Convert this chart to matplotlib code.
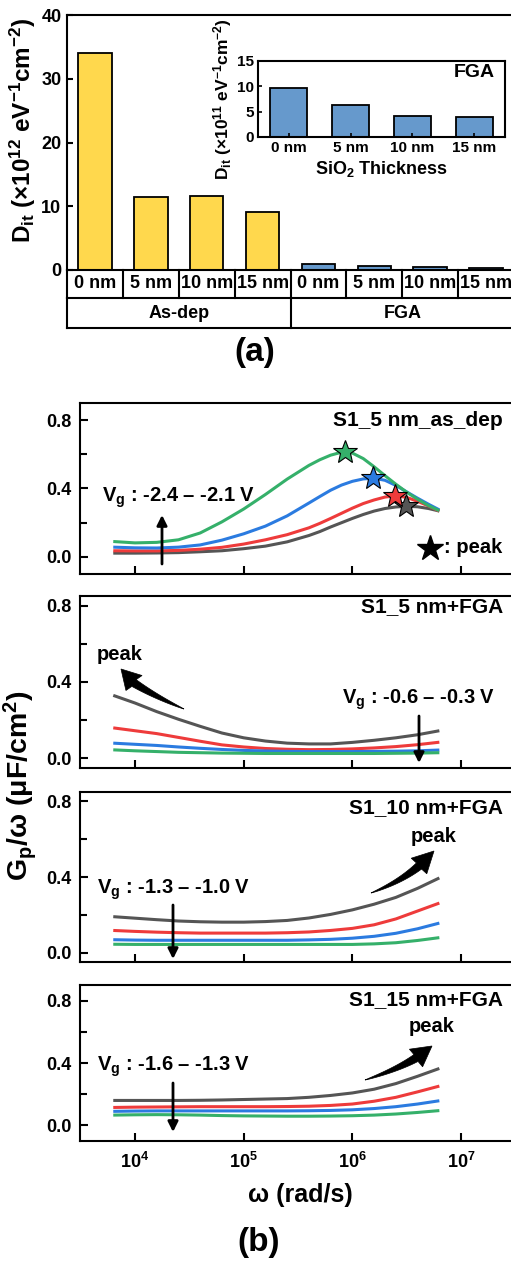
import numpy as np
import matplotlib
matplotlib.use('Agg')
import matplotlib.pyplot as plt
from matplotlib.patches import Polygon
from matplotlib.ticker import LogLocator, MultipleLocator, NullLocator, FormatStrFormatter

plt.rcParams['font.family'] = ['Liberation Sans', 'DejaVu Sans']
plt.rcParams['font.weight'] = 'bold'
plt.rcParams['axes.labelweight'] = 'bold'
plt.rcParams['mathtext.fontset'] = 'custom'
plt.rcParams['mathtext.rm'] = 'Liberation Sans:bold'
plt.rcParams['mathtext.it'] = 'Liberation Sans:bold'
plt.rcParams['mathtext.bf'] = 'Liberation Sans:bold'
plt.rcParams['mathtext.default'] = 'regular'
plt.rcParams['axes.linewidth'] = 1.5

# ---- (a) Dit bar data ----
thickness = ['0 nm', '5 nm', '10 nm', '15 nm']
groups = ['As-dep', 'FGA']
dit_asdep = [34.0, 11.5, 11.6, 9.1]       # x1e12 eV-1 cm-2
dit_fga_e11 = [9.6, 6.4, 4.1, 3.9]        # x1e11 eV-1 cm-2

# ---- (b) Gp/w data, log10(omega) grid ----
log_w = [3.8, 4.0, 4.2, 4.4, 4.6, 4.8, 5.0, 5.2, 5.4, 5.6, 5.8, 6.0, 6.2, 6.4, 6.6, 6.8]

# as-dep panel read on a finer grid around the peaks
log_w_asdep = [3.8, 4.0, 4.2, 4.4, 4.6, 4.8, 5.0, 5.2, 5.4, 5.6, 5.7, 5.8, 5.9, 6.0, 6.1, 6.2,
               6.3, 6.4, 6.5, 6.6, 6.7, 6.8]
asdep5_gray = [0.022, 0.022, 0.023, 0.025, 0.030, 0.036, 0.048, 0.063, 0.088, 0.125, 0.148, 0.175,
               0.200, 0.225, 0.248, 0.268, 0.283, 0.292, 0.296, 0.293, 0.283, 0.268]
asdep5_red = [0.036, 0.035, 0.035, 0.038, 0.045, 0.056, 0.075, 0.100, 0.130, 0.170, 0.196, 0.225,
              0.255, 0.285, 0.312, 0.333, 0.350, 0.357, 0.348, 0.325, 0.298, 0.268]
asdep5_blue = [0.057, 0.053, 0.052, 0.057, 0.070, 0.098, 0.135, 0.180, 0.240, 0.315, 0.353, 0.390,
               0.420, 0.442, 0.456, 0.460, 0.448, 0.418, 0.380, 0.343, 0.308, 0.275]
asdep5_green = [0.090, 0.082, 0.085, 0.100, 0.140, 0.205, 0.280, 0.365, 0.455, 0.535, 0.568, 0.595,
                0.612, 0.607, 0.575, 0.527, 0.475, 0.425, 0.378, 0.337, 0.300, 0.270]
peak_log_w = [6.49, 6.39, 6.19, 5.93]
peak_val = [0.296, 0.357, 0.460, 0.614]

fga5_gray = [0.330, 0.290, 0.245, 0.205, 0.168, 0.133, 0.108, 0.091, 0.080, 0.076, 0.076, 0.084, 0.095, 0.108, 0.124, 0.145]
fga5_red = [0.160, 0.145, 0.130, 0.110, 0.090, 0.071, 0.060, 0.052, 0.048, 0.046, 0.047, 0.050, 0.055, 0.062, 0.072, 0.085]
fga5_blue = [0.080, 0.074, 0.068, 0.060, 0.053, 0.047, 0.042, 0.039, 0.037, 0.036, 0.036, 0.036, 0.037, 0.038, 0.040, 0.044]
fga5_green = [0.045, 0.040, 0.036, 0.032, 0.030, 0.028, 0.027, 0.026, 0.026, 0.026, 0.026, 0.026, 0.026, 0.027, 0.028, 0.030]

fga10_gray = [0.190, 0.182, 0.174, 0.167, 0.163, 0.161, 0.161, 0.164, 0.170, 0.183, 0.202, 0.226, 0.256, 0.292, 0.340, 0.395]
fga10_red = [0.117, 0.112, 0.108, 0.105, 0.103, 0.103, 0.103, 0.103, 0.105, 0.109, 0.117, 0.128, 0.147, 0.178, 0.220, 0.262]
fga10_blue = [0.068, 0.066, 0.065, 0.065, 0.065, 0.065, 0.065, 0.065, 0.065, 0.067, 0.070, 0.076, 0.086, 0.102, 0.126, 0.156]
fga10_green = [0.044, 0.043, 0.043, 0.043, 0.043, 0.043, 0.043, 0.043, 0.043, 0.043, 0.043, 0.043, 0.046, 0.052, 0.064, 0.079]

fga15_gray = [0.160, 0.160, 0.160, 0.160, 0.161, 0.163, 0.166, 0.169, 0.172, 0.180, 0.192, 0.208, 0.232, 0.268, 0.315, 0.365]
fga15_red = [0.115, 0.117, 0.118, 0.119, 0.120, 0.120, 0.120, 0.120, 0.121, 0.123, 0.128, 0.137, 0.155, 0.180, 0.215, 0.252]
fga15_blue = [0.090, 0.092, 0.093, 0.093, 0.093, 0.093, 0.093, 0.093, 0.093, 0.094, 0.096, 0.100, 0.108, 0.120, 0.137, 0.158]
fga15_green = [0.066, 0.068, 0.069, 0.068, 0.066, 0.063, 0.061, 0.060, 0.059, 0.059, 0.060, 0.062, 0.066, 0.073, 0.083, 0.095]

colors = ['#555555', '#EE3B3B', '#2B7BE0', '#35B06A']
yellow = '#FFD84D'
blue_bar = '#6699CC'

W, H = 511, 1262


def box(l, t, r, b):
    return [l / W, 1 - b / H, (r - l) / W, (b - t) / H]


def frac(px, x, y):
    l, t, r, b = px
    return ((x - l) / (r - l), (b - y) / (b - t))


fig = plt.figure(figsize=(W / 100, H / 100), dpi=100)

# ---------------- (a) ----------------
bar_px = (67, 15, 514, 270)
ax = fig.add_axes(box(*bar_px))
xpos = np.arange(8)
ax.bar(xpos[:4], dit_asdep, width=0.6, color=yellow, edgecolor='k', lw=1.3)
ax.bar(xpos[4:], [v / 10 for v in dit_fga_e11], width=0.6, color=blue_bar, edgecolor='k', lw=1.3)
ax.set_xlim(-0.5, 7.5)
ax.set_ylim(0, 40)
ax.set_yticks([0, 10, 20, 30, 40])
ax.set_xticks([])
ax.tick_params(axis='y', direction='in', length=4, width=1.5, labelsize=13, pad=4)
ax.spines['right'].set_visible(False)
fig.text(23 / W, 1 - 130 / H,
         r'D$_{\mathregular{it}}$ (×10$^{\mathregular{12}}$ eV$^{\mathregular{-1}}$cm$^{\mathregular{-2}}$)',
         rotation=90, ha='center', va='center', fontsize=17.5)

# category table under the bars
row1, row2 = -28 / 255, -58 / 255
tr = ax.get_xaxis_transform()
for xb in np.arange(-0.5, 8, 1):
    ax.plot([xb, xb], [0, row1], color='k', lw=1.5, transform=tr, clip_on=False)
for xb in [-0.5, 3.5, 7.5]:
    ax.plot([xb, xb], [row1, row2], color='k', lw=1.5, transform=tr, clip_on=False)
for yb in [row1, row2]:
    ax.plot([-0.5, 7.5], [yb, yb], color='k', lw=1.5, transform=tr, clip_on=False)
for i, lab in enumerate(thickness * 2):
    ax.text(i, row1 / 2, lab, transform=tr, ha='center', va='center', fontsize=13)
for j, g in enumerate(groups):
    ax.text(1.5 + 4 * j, (row1 + row2) / 2, g, transform=tr, ha='center', va='center', fontsize=13)

# inset
ins_px = (258, 61, 505, 137)
axi = fig.add_axes(box(*ins_px))
axi.bar(np.arange(4), dit_fga_e11, width=0.6, color=blue_bar, edgecolor='k', lw=1.3)
axi.set_xlim(-0.5, 3.5)
axi.set_ylim(0, 15)
axi.set_yticks([0, 5, 10, 15])
axi.set_xticks(np.arange(4))
axi.set_xticklabels(thickness)
axi.tick_params(direction='in', length=3, width=1.2, labelsize=11, pad=3)
axi.set_xlabel(r'SiO$_{\mathregular{2}}$ Thickness', fontsize=13, labelpad=3)
axi.set_ylabel(r'D$_{\mathregular{it}}$ (×10$^{\mathregular{11}}$ eV$^{\mathregular{-1}}$cm$^{\mathregular{-2}}$)',
               fontsize=12.5, labelpad=2)
axi.text(0.96, 0.85, 'FGA', transform=axi.transAxes, ha='right', va='center', fontsize=14)

fig.text(255 / W, 1 - 352 / H, '(a)', ha='center', va='center', fontsize=24)

# ---------------- (b) ----------------
w = [10 ** v for v in log_w]
w_asdep = [10 ** v for v in log_w_asdep]
panels = [
    ((80, 403, 520, 574), (-0.1, 0.9), w_asdep, [asdep5_gray, asdep5_red, asdep5_blue, asdep5_green], 'S1_5 nm_as_dep'),
    ((80, 596, 520, 768), (-0.05, 0.85), w, [fga5_gray, fga5_red, fga5_blue, fga5_green], 'S1_5 nm+FGA'),
    ((80, 792, 520, 962), (-0.05, 0.85), w, [fga10_gray, fga10_red, fga10_blue, fga10_green], 'S1_10 nm+FGA'),
    ((80, 985, 520, 1141), (-0.1, 0.9), w, [fga15_gray, fga15_red, fga15_blue, fga15_green], 'S1_15 nm+FGA'),
]
title_y = [421, 607, 808, 1000]

axes = []
for k, (px, ylim, xs, series, title) in enumerate(panels):
    a = fig.add_axes(box(*px))
    for s, c in zip(series, colors):
        a.plot(xs, s, color=c, lw=2.2, solid_capstyle='butt', solid_joinstyle='round')
    a.set_xscale('log')
    a.set_xlim(10 ** 3.494, 10 ** 7.542)
    a.set_ylim(*ylim)
    a.xaxis.set_major_locator(LogLocator(base=10, numticks=10))
    a.xaxis.set_minor_locator(NullLocator())
    a.yaxis.set_major_locator(MultipleLocator(0.4))
    a.yaxis.set_minor_locator(MultipleLocator(0.2))
    a.yaxis.set_major_formatter(FormatStrFormatter('%.1f'))
    a.tick_params(which='major', direction='in', length=6, width=1.5, labelsize=13)
    a.tick_params(which='minor', direction='in', length=5, width=1.5)
    a.tick_params(axis='y', pad=6)
    a.tick_params(axis='x', pad=8)
    a.spines['right'].set_visible(False)
    if k < 3:
        a.tick_params(axis='x', labelbottom=False)
    tx, ty = frac(px, 503, title_y[k])
    a.text(tx, ty, title, transform=a.transAxes, ha='right', va='center', fontsize=15)
    axes.append(a)

# stars on the as-dep panel
for lw_, pv, c in zip(peak_log_w, peak_val, colors):
    axes[0].plot(10 ** lw_, pv, marker='*', ms=18, color=c, mec='k', mew=0.8)


def vg_text(a, px, x, y, s):
    fx, fy = frac(px, x, y)
    a.text(fx, fy, s, transform=a.transAxes, ha='left', va='center', fontsize=14.5)


def straight_arrow(a, px, x0, y0, x1, y1):
    a.annotate('', xy=frac(px, x1, y1), xytext=frac(px, x0, y0), xycoords='axes fraction',
               textcoords='axes fraction',
               arrowprops=dict(arrowstyle='-|>,head_length=0.6,head_width=0.3', lw=2, color='k',
                               shrinkA=0, shrinkB=0))


def tapered_arrow(p0, pc, p1, tip, tail_w=8.0, head_w=22.0):
    # curved body, thin at the tail and widening to the head (pixel coords, y down)
    p0, pc, p1, tip = (np.array(p, dtype=float) for p in (p0, pc, p1, tip))
    t = np.linspace(0, 1, 40)[:, None]
    pts = (1 - t) ** 2 * p0 + 2 * (1 - t) * t * pc + t ** 2 * p1
    d = 2 * (1 - t) * (pc - p0) + 2 * t * (p1 - pc)
    d = d / np.linalg.norm(d, axis=1, keepdims=True)
    n = np.hstack([-d[:, 1:2], d[:, 0:1]])
    half = tail_w / 2 * t ** 0.8
    left = pts + n * half
    right = pts - n * half
    de = (tip - p1) / np.linalg.norm(tip - p1)
    ne = np.array([-de[1], de[0]])
    head = np.array([p1 + ne * head_w / 2, tip, p1 - ne * head_w / 2])
    poly = np.vstack([left, head, right[::-1]])
    poly = np.column_stack([poly[:, 0] / W, 1 - poly[:, 1] / H])
    fig.add_artist(Polygon(poly, closed=True, facecolor='k', edgecolor='k', lw=0.5,
                           transform=fig.transFigure))


# panel 1
px = panels[0][0]
vg_text(axes[0], px, 102, 498, r'V$_{\mathregular{g}}$ : -2.4 – -2.1 V')
straight_arrow(axes[0], px, 162, 564, 162, 515)
sx, sy = frac(px, 430, 548)
axes[0].plot(sx, sy, marker='*', ms=19, color='k', transform=axes[0].transAxes, clip_on=False)
axes[0].text(frac(px, 444, 548)[0], sy, ': peak', transform=axes[0].transAxes,
             ha='left', va='center', fontsize=14.5)

# panel 2
px = panels[1][0]
vg_text(axes[1], px, 342, 700, r'V$_{\mathregular{g}}$ : -0.6 – -0.3 V')
straight_arrow(axes[1], px, 419, 716, 419, 763)
fx, fy = frac(px, 120, 654)
axes[1].text(fx, fy, 'peak', transform=axes[1].transAxes, ha='center', va='center', fontsize=14.5)
tapered_arrow((184, 709), (156, 697), (134, 683), (121, 669))

# panel 3
px = panels[2][0]
vg_text(axes[2], px, 97, 890, r'V$_{\mathregular{g}}$ : -1.3 – -1.0 V')
straight_arrow(axes[2], px, 173, 905, 173, 959)
fx, fy = frac(px, 434, 837)
axes[2].text(fx, fy, 'peak', transform=axes[2].transAxes, ha='center', va='center', fontsize=14.5)
tapered_arrow((371, 893), (400, 882), (419, 866), (434, 851))

# panel 4
px = panels[3][0]
vg_text(axes[3], px, 97, 1067, r'V$_{\mathregular{g}}$ : -1.6 – -1.3 V')
straight_arrow(axes[3], px, 173, 1083, 173, 1132)
fx, fy = frac(px, 432, 1027)
axes[3].text(fx, fy, 'peak', transform=axes[3].transAxes, ha='center', va='center', fontsize=14.5)
tapered_arrow((365, 1080), (396, 1070), (416, 1058), (432, 1046))

axes[3].set_xlabel('ω (rad/s)', fontsize=18, labelpad=8)
fig.text(20 / W, 1 - 786 / H, r'G$_{\mathregular{p}}$/ω (μF/cm$^{\mathregular{2}}$)', rotation=90,
         ha='center', va='center', fontsize=20.5)
fig.text(259 / W, 1 - 1243 / H, '(b)', ha='center', va='center', fontsize=24)

fig.savefig('out.png', dpi=100)
